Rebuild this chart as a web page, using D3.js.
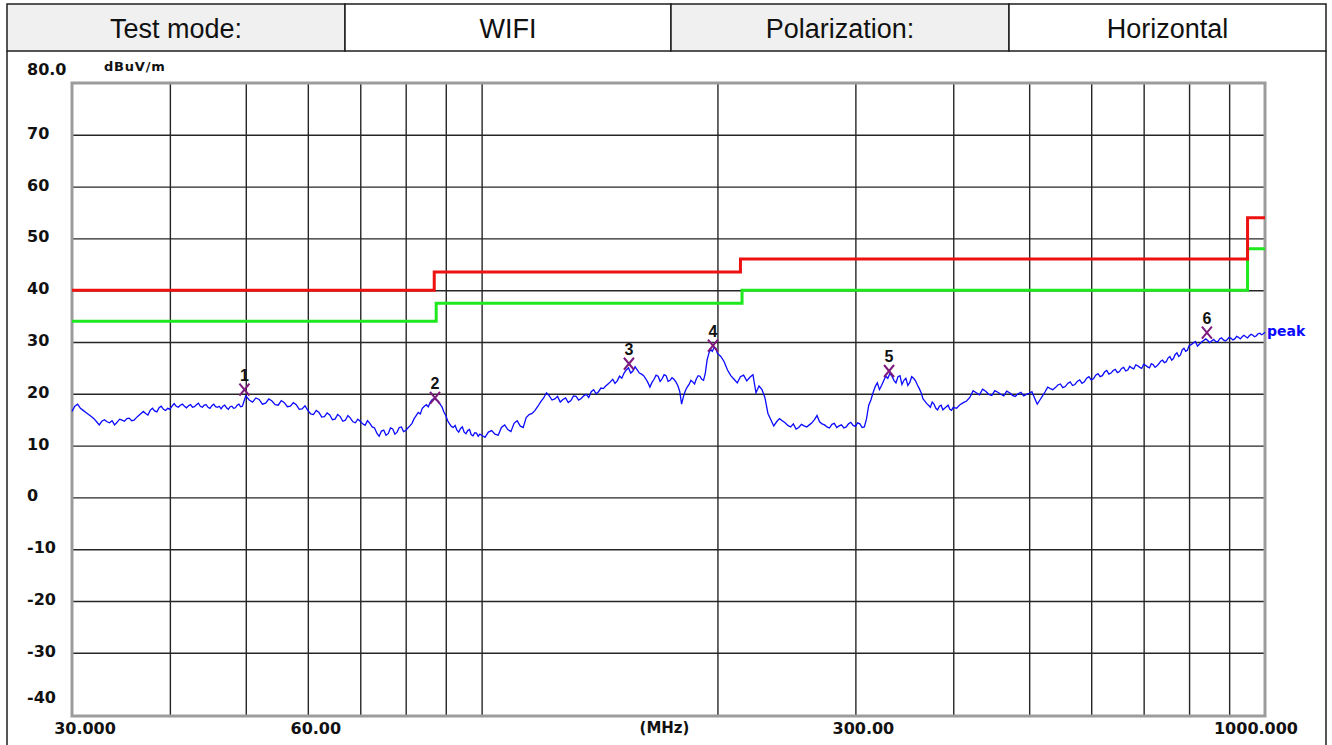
<!DOCTYPE html>
<html>
<head>
<meta charset="utf-8">
<script src="https://cdn.jsdelivr.net/npm/d3@7"></script>
<style>
  body { margin: 0; background: #fff; }
  svg { display: block; }
</style>
</head>
<body>
<script>
// header row
const headerTexts = ['Test mode:', 'WIFI', 'Polarization:', 'Horizontal'];

// axes
const yTickValues = [70, 60, 50, 40, 30, 20, 10, 0, -10, -20, -30, -40];
const yGridValues = [70, 60, 50, 40, 30, 20, 10, 0, -10, -20, -30];
const freqGrid = [40, 50, 60, 70, 80, 90, 100, 200, 300, 400, 500, 600, 700, 800, 900];
const xLabelFreqs = [30, 60, 300, 1000];
const xLabelTexts = ['30.000', '60.00', '300.00', '1000.000'];

// limit lines (MHz, dBuV/m), step after
const limitRed = [[30, 40], [87, 43.5], [214, 46], [950, 54], [1000, 54]];
const limitGreen = [[30, 34], [87.5, 37.5], [215, 40], [950, 48], [1000, 48]];

// peak trace (MHz, dBuV/m)
const peakTrace = [
  [30, 16.6], [30.5, 18.0], [31, 16.8], [31.5, 16.0], [32, 15.2], [32.5, 14.0], [33, 15.0], [33.5, 14.4],
  [34, 14.0], [34.5, 15.1], [35, 14.7], [35.5, 15.3], [36, 14.9], [36.5, 15.8], [37, 16.6], [37.5, 15.9],
  [38, 17.2], [38.5, 16.5], [39, 17.6], [39.5, 16.8], [40, 17.0], [40.5, 18.1], [41, 17.4], [41.5, 18.0],
  [42, 17.3], [42.5, 17.9], [43, 17.5], [43.5, 18.2], [44, 17.4], [44.5, 17.9], [45, 17.2], [45.5, 18.0],
  [46, 17.4], [46.5, 17.1], [47, 17.8], [47.5, 17.0], [48, 17.6], [48.5, 17.3], [49, 18.0], [49.5, 17.6],
  [50, 19.6], [51, 18.4], [52, 18.9], [53, 18.2], [54, 18.6], [55, 17.8], [56, 18.3], [57, 17.6],
  [58, 17.9], [59, 17.1], [60, 16.8], [61, 16.0], [62, 16.4], [63, 15.6], [64, 15.9], [65, 15.1],
  [66, 15.6], [67, 14.9], [68, 15.3], [69, 14.4], [70, 14.7], [71, 13.9], [72, 14.3], [73, 13.4],
  [74, 11.8], [75, 13.0], [76, 12.3], [77, 13.2], [78, 12.6], [79, 13.6], [80, 12.9], [81, 13.8],
  [82, 15.2], [83, 16.4], [84, 17.2], [85, 17.9], [86, 18.4], [87, 19.1], [88, 18.6], [89, 17.5],
  [90, 15.8], [91, 14.2], [92, 13.5], [93, 13.0], [94, 13.3], [95, 12.6], [96, 12.9], [97, 12.1],
  [98, 12.5], [99, 11.8], [100, 12.0], [102, 12.6], [104, 12.2], [106, 13.5], [108, 13.1], [110, 14.3],
  [112, 13.8], [114, 15.4], [116, 16.2], [118, 17.6], [120, 19.2], [122, 19.6], [124, 19.0], [126, 18.4],
  [128, 19.2], [130, 18.7], [132, 19.5], [134, 19.1], [136, 19.9], [138, 20.4], [140, 20.0], [142, 21.1],
  [144, 21.5], [146, 22.3], [148, 22.0], [150, 23.4], [152, 24.0], [154, 25.0], [156, 24.4], [158, 24.6],
  [160, 23.8], [162, 22.9], [164, 21.3], [166, 22.8], [168, 23.4], [170, 22.9], [172, 23.5], [174, 22.6],
  [176, 22.8], [178, 21.6], [180, 18.0], [182, 20.6], [184, 21.8], [186, 22.3], [188, 22.9], [190, 23.4],
  [192, 22.6], [194, 26.5], [196, 28.6], [198, 28.9], [200, 27.8], [204, 26.2], [208, 23.5], [212, 22.1],
  [216, 23.6], [220, 23.2], [224, 20.2], [228, 20.8], [232, 16.2], [236, 13.8], [240, 15.2], [244, 14.4],
  [248, 13.6], [252, 13.2], [256, 14.1], [260, 13.6], [264, 14.4], [268, 15.8], [272, 14.2], [276, 13.6],
  [280, 14.1], [284, 13.5], [288, 14.0], [292, 13.6], [296, 14.5], [300, 13.7], [304, 14.2], [308, 13.6],
  [312, 17.8], [316, 20.2], [320, 22.1], [324, 21.6], [328, 23.4], [332, 23.9], [336, 22.6], [340, 23.3],
  [344, 21.8], [348, 23.0], [352, 22.2], [356, 23.0], [360, 21.7], [364, 20.2], [368, 18.6], [372, 17.8],
  [376, 18.4], [380, 17.2], [384, 17.6], [388, 16.9], [392, 17.5], [396, 17.0], [400, 17.4], [408, 17.9],
  [416, 18.6], [424, 20.6], [432, 19.8], [440, 20.5], [448, 19.7], [456, 20.3], [464, 19.6], [472, 20.2],
  [480, 19.5], [488, 20.3], [496, 19.9], [504, 20.4], [512, 18.0], [520, 19.6], [528, 21.3], [536, 20.8],
  [544, 21.7], [552, 21.2], [560, 22.0], [568, 21.6], [576, 22.4], [584, 22.0], [592, 23.0], [600, 22.7],
  [608, 23.6], [616, 23.3], [624, 24.2], [632, 23.8], [640, 24.5], [648, 24.1], [656, 24.9], [664, 24.4],
  [672, 25.3], [680, 24.8], [688, 25.4], [696, 24.9], [704, 25.5], [712, 25.0], [720, 25.6], [728, 25.4],
  [736, 26.3], [744, 26.0], [752, 26.9], [760, 26.5], [768, 27.6], [776, 27.2], [784, 28.5], [792, 28.2],
  [800, 29.3], [810, 29.8], [820, 29.2], [830, 30.0], [840, 30.6], [850, 29.9], [860, 30.5], [870, 30.0],
  [880, 30.8], [890, 30.2], [900, 30.9], [910, 30.4], [920, 31.1], [930, 30.6], [940, 31.3], [950, 30.8],
  [960, 31.5], [970, 31.0], [980, 31.6], [990, 31.4], [1000, 31.9]
];

// finer noise readings between the points above
const peakTraceFine = [
  [30.25, 17.6], [30.75, 17.2], [31.25, 16.4], [31.75, 15.6], [32.25, 14.6], [32.75, 14.7], [33.25, 14.6], [33.75, 14.8],
  [34.25, 14.5], [34.75, 14.9], [35.25, 15.2], [35.75, 14.8], [36.25, 15.4], [36.75, 16.2], [37.25, 16.2], [37.75, 16.8],
  [38.25, 16.7], [38.75, 17.3], [39.25, 17.0], [39.75, 17.2], [40.25, 17.6], [40.75, 17.6], [41.25, 17.8], [41.75, 17.6],
  [42.25, 17.7], [42.75, 17.4], [43.25, 17.9], [43.75, 17.6], [44.25, 17.8], [44.75, 17.4], [45.25, 17.7], [45.75, 17.5],
  [46.25, 17.6], [46.75, 17.6], [47.25, 17.3], [47.75, 17.5], [48.25, 17.2], [48.75, 17.8], [49.25, 17.5], [49.75, 18.6],
  [50.5, 18.8], [51.5, 19.2], [52.5, 18.0], [53.5, 19.0], [54.5, 17.9], [55.5, 18.7], [56.5, 17.5], [57.5, 18.3],
  [58.5, 17.0], [59.5, 17.7], [60.5, 16.1], [61.5, 16.8], [62.5, 15.5], [63.5, 16.3], [64.5, 15.0], [65.5, 16.0],
  [66.5, 14.7], [67.5, 15.8], [68.5, 14.6], [69.5, 15.1], [70.5, 14.2], [71.5, 14.8], [72.5, 13.6], [73.5, 12.4],
  [74.5, 12.8], [75.5, 12.0], [76.5, 13.4], [77.5, 12.2], [78.5, 13.5], [79.5, 12.7], [80.5, 13.4], [81.5, 14.3],
  [82.5, 15.8], [83.5, 16.1], [84.5, 17.6], [85.5, 17.5], [86.5, 18.9], [87.5, 18.8], [88.5, 18.0], [89.5, 16.5],
  [90.5, 14.8], [91.5, 13.7], [92.5, 13.9], [93.5, 12.6], [94.5, 13.6], [95.5, 12.3], [96.5, 13.1], [97.5, 11.9],
  [98.5, 12.4], [99.5, 12.2],
  [101, 11.6], [103, 12.9], [105, 12.0], [107, 14.0], [109, 12.7], [111, 14.8], [113, 13.5], [115, 16.0],
  [117, 16.8], [119, 18.5], [121, 20.2], [123, 18.8], [125, 19.5], [127, 18.9], [129, 18.3], [131, 19.6],
  [133, 18.8], [135, 19.6], [137, 19.3], [139, 20.8], [141, 20.4], [143, 21.0], [145, 21.9], [147, 22.8],
  [149, 22.5], [151, 23.0], [153, 24.6], [155, 24.0], [157, 25.2], [159, 24.0], [161, 23.5], [163, 22.2],
  [165, 22.2], [167, 23.6], [169, 22.4], [171, 23.7], [173, 22.4], [175, 23.1], [177, 22.3], [179, 20.5],
  [181, 19.5], [183, 21.3], [185, 22.6], [187, 21.9], [189, 23.5], [191, 22.8], [193, 24.0], [195, 27.8],
  [197, 28.2], [199, 28.8],
  [202, 27.2], [206, 24.6], [210, 22.8], [214, 23.3], [218, 22.5], [222, 23.7], [226, 21.5], [230, 19.2],
  [234, 15.0], [238, 14.6], [242, 14.8], [246, 13.9], [250, 14.2], [254, 13.5], [258, 13.8], [262, 14.0],
  [266, 15.0], [270, 14.6], [274, 14.0], [278, 13.4], [282, 14.3], [286, 13.8], [290, 13.4], [294, 14.2],
  [298, 13.9], [302, 14.4], [306, 13.5], [310, 15.2], [314, 18.8], [318, 21.4], [322, 20.8], [326, 22.5],
  [330, 23.0], [334, 23.4], [338, 22.1], [342, 23.5], [346, 22.6], [350, 21.6], [354, 23.3], [358, 22.5],
  [362, 21.0], [366, 19.0], [370, 18.1], [374, 17.4], [378, 18.0], [382, 16.9], [386, 17.8], [390, 17.2],
  [394, 17.8], [398, 16.8],
  [404, 17.2], [412, 18.3], [420, 19.3], [428, 20.2], [436, 20.9], [444, 19.9], [452, 20.6], [460, 19.9],
  [468, 20.5], [476, 19.7], [484, 20.0], [492, 19.6], [500, 20.1], [508, 19.2], [516, 18.8], [524, 20.4],
  [532, 21.0], [540, 21.2], [548, 21.9], [556, 21.4], [564, 22.3], [572, 21.8], [580, 22.7], [588, 22.3],
  [596, 23.3], [604, 22.9], [612, 23.9], [620, 23.5], [628, 24.5], [636, 24.0], [644, 24.7], [652, 24.3],
  [660, 25.1], [668, 24.6], [676, 25.0], [684, 25.6], [692, 25.1], [700, 25.7], [708, 25.2], [716, 25.8],
  [724, 25.1], [732, 25.8], [740, 26.5], [748, 26.2], [756, 27.2], [764, 26.8], [772, 27.9], [780, 27.5],
  [788, 28.8], [796, 28.4],
  [805, 29.5], [815, 30.1], [825, 29.6], [835, 30.3], [845, 30.3], [855, 30.2], [865, 30.1], [875, 30.6],
  [885, 30.4], [895, 30.5], [905, 30.7], [915, 30.6], [925, 30.9], [935, 31.0], [945, 31.0], [955, 31.2],
  [965, 31.3], [975, 31.2], [985, 31.7], [995, 31.6]
];

// markers
const markerFreqs = [49.8, 87.2, 154.2, 197.4, 331.2, 843];
const markerLevels = [20.8, 19.2, 25.8, 29.3, 24.4, 31.8];
const markerLabels = ['1', '2', '3', '4', '5', '6'];

const width = 1332;
const height = 745;
const colEdges = [7, 345, 671, 1009, 1326];
const headTop = 4;
const headBottom = 51;
const plot = { left: 72, right: 1265, top: 83, bottom: 716 };
const labelFont = 'DejaVu Sans, Verdana, sans-serif';

const trace = peakTrace.concat(peakTraceFine).sort((a, b) => a[0] - b[0]);

const svg = d3.select('body')
  .append('svg')
  .attr('width', width)
  .attr('height', height);

svg.append('rect')
  .attr('width', width)
  .attr('height', height)
  .attr('fill', '#fff');

// header table
const head = svg.append('g').attr('class', 'header');
head.selectAll('rect')
  .data(headerTexts)
  .enter()
  .append('rect')
  .attr('x', (d, i) => colEdges[i])
  .attr('y', headTop)
  .attr('width', (d, i) => colEdges[i + 1] - colEdges[i])
  .attr('height', headBottom - headTop)
  .attr('fill', (d, i) => i % 2 === 0 ? '#f0f0f0' : '#fff')
  .attr('stroke', '#1e1e1e')
  .attr('stroke-width', 1.5);

head.selectAll('text')
  .data(headerTexts)
  .enter()
  .append('text')
  .attr('x', (d, i) => (colEdges[i] + colEdges[i + 1]) / 2)
  .attr('y', 38)
  .attr('text-anchor', 'middle')
  .attr('font-family', 'Liberation Sans, Arial, sans-serif')
  .attr('font-size', '27px')
  .attr('fill', '#111')
  .text(d => d);

// outer frame sides below the header
svg.append('line')
  .attr('x1', colEdges[0]).attr('x2', colEdges[0])
  .attr('y1', headBottom).attr('y2', height)
  .attr('stroke', '#1e1e1e').attr('stroke-width', 1.5);
svg.append('line')
  .attr('x1', colEdges[4]).attr('x2', colEdges[4])
  .attr('y1', headBottom).attr('y2', height)
  .attr('stroke', '#1e1e1e').attr('stroke-width', 1.5);

const x = d3.scaleLog()
  .domain([30, 1000])
  .range([plot.left, plot.right]);

const y = d3.scaleLinear()
  .domain([80, -40])
  .range([plot.top, plot.top + 12 * 51.8]);

// grid via axes
const xGrid = d3.axisBottom(x)
  .tickValues(freqGrid)
  .tickSize(-(plot.bottom - plot.top))
  .tickFormat('');

const yGrid = d3.axisLeft(y)
  .tickValues(yGridValues)
  .tickSize(-(plot.right - plot.left))
  .tickFormat('');

svg.append('g')
  .attr('class', 'x-grid')
  .attr('transform', 'translate(0,' + plot.bottom + ')')
  .call(xGrid)
  .call(g => g.select('.domain').remove())
  .selectAll('line')
  .attr('stroke', '#262626')
  .attr('stroke-width', 1.4);

svg.append('g')
  .attr('class', 'y-grid')
  .attr('transform', 'translate(' + plot.left + ',0)')
  .call(yGrid)
  .call(g => g.select('.domain').remove())
  .selectAll('line')
  .attr('stroke', '#262626')
  .attr('stroke-width', 1.4);

// plot frame
svg.append('rect')
  .attr('x', plot.left)
  .attr('y', plot.top)
  .attr('width', plot.right - plot.left)
  .attr('height', plot.bottom - plot.top)
  .attr('fill', 'none')
  .attr('stroke', '#9c9c9c')
  .attr('stroke-width', 3);

// y labels
svg.append('g')
  .selectAll('text')
  .data(yTickValues)
  .enter()
  .append('text')
  .attr('x', 27)
  .attr('y', d => Math.min(y(d) + 4, plot.bottom - 13))
  .attr('font-family', labelFont)
  .attr('font-weight', 'bold')
  .attr('font-size', '16px')
  .attr('fill', '#111')
  .text(d => d);

svg.append('text')
  .attr('x', 27)
  .attr('y', y(80) - 8)
  .attr('font-family', labelFont)
  .attr('font-weight', 'bold')
  .attr('font-size', '16px')
  .attr('fill', '#111')
  .text('80.0');

svg.append('text')
  .attr('x', 104)
  .attr('y', y(80) - 12)
  .attr('font-family', labelFont)
  .attr('font-weight', 'bold')
  .attr('font-size', '13px')
  .attr('letter-spacing', '0.8px')
  .attr('fill', '#111')
  .text('dBuV/m');

// x labels
svg.append('g')
  .selectAll('text')
  .data(xLabelFreqs)
  .enter()
  .append('text')
  .attr('x', d => Math.min(Math.max(x(d) + 8, plot.left + 13), plot.right - 9))
  .attr('y', 734)
  .attr('text-anchor', 'middle')
  .attr('font-family', labelFont)
  .attr('font-weight', 'bold')
  .attr('font-size', '16px')
  .attr('fill', '#111')
  .text((d, i) => xLabelTexts[i]);

svg.append('text')
  .attr('x', (plot.left + plot.right) / 2 - 4)
  .attr('y', 733)
  .attr('text-anchor', 'middle')
  .attr('font-family', labelFont)
  .attr('font-weight', 'bold')
  .attr('font-size', '15px')
  .attr('fill', '#111')
  .text('(MHz)');

// limit lines
const stepLine = d3.line()
  .x(d => x(d[0]))
  .y(d => y(d[1]))
  .curve(d3.curveStepAfter);

svg.append('path')
  .datum(limitGreen)
  .attr('d', stepLine)
  .attr('fill', 'none')
  .attr('stroke', '#1ee81e')
  .attr('stroke-width', 3);

svg.append('path')
  .datum(limitRed)
  .attr('d', stepLine)
  .attr('fill', 'none')
  .attr('stroke', '#ee1111')
  .attr('stroke-width', 3);

// peak trace
const traceLine = d3.line()
  .x(d => x(d[0]))
  .y(d => y(d[1]));

svg.append('path')
  .datum(trace)
  .attr('d', traceLine)
  .attr('fill', 'none')
  .attr('stroke', '#0a0aff')
  .attr('stroke-width', 1.3)
  .attr('stroke-linejoin', 'miter');

const last = trace[trace.length - 1];
svg.append('text')
  .attr('x', x(last[0]) + 2)
  .attr('y', y(last[1]) + 4)
  .attr('font-family', labelFont)
  .attr('font-weight', 'bold')
  .attr('font-size', '14px')
  .attr('fill', '#0a0aff')
  .text('peak');

// markers
const markers = svg.append('g')
  .attr('class', 'markers')
  .selectAll('g')
  .data(markerFreqs)
  .enter()
  .append('g')
  .attr('transform', (d, i) => 'translate(' + x(d) + ',' + y(markerLevels[i]) + ')');

markers.append('path')
  .attr('d', 'M-5,-6L5,6M-5,6L5,-6')
  .attr('stroke', '#7d1a7d')
  .attr('stroke-width', 2)
  .attr('fill', 'none');

markers.append('text')
  .attr('y', -9)
  .attr('text-anchor', 'middle')
  .attr('font-family', 'Liberation Sans, Arial, sans-serif')
  .attr('font-weight', 'bold')
  .attr('font-size', '16px')
  .attr('fill', '#111')
  .text((d, i) => markerLabels[i]);
</script>
</body>
</html>
